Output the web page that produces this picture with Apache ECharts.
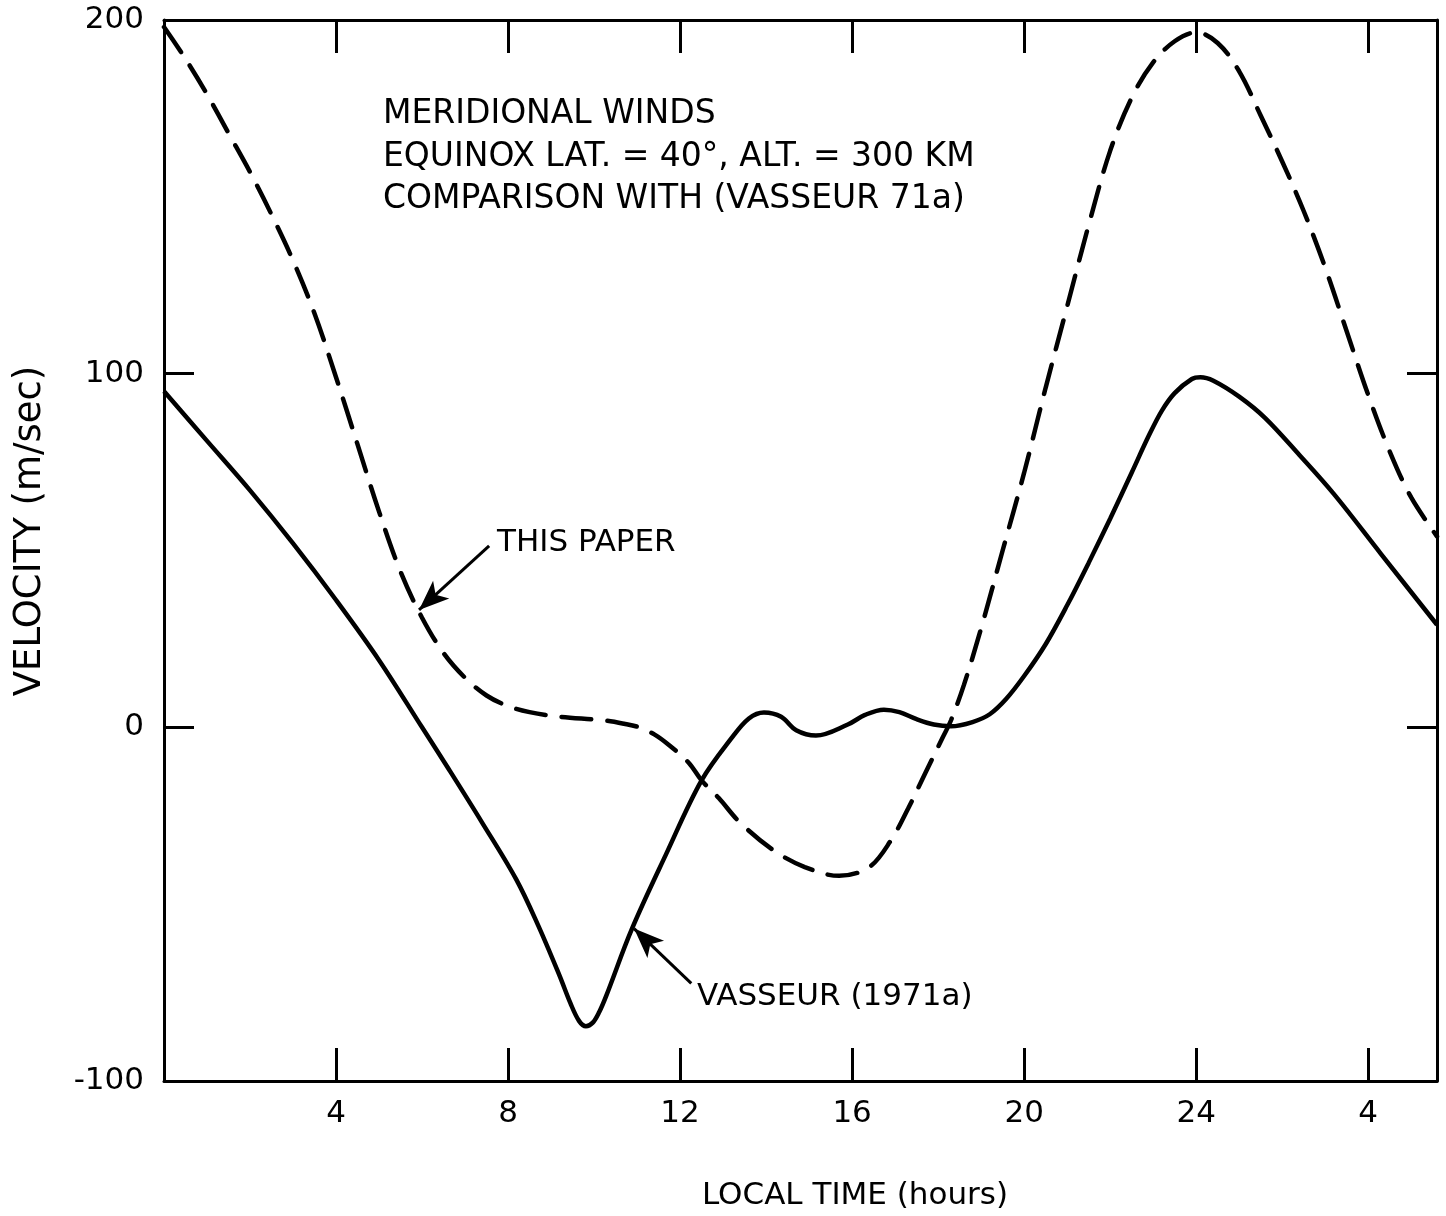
<!DOCTYPE html>
<html><head><meta charset="utf-8">
<script src="https://cdn.jsdelivr.net/npm/echarts@6/dist/echarts.min.js"></script>
<style>html,body{margin:0;padding:0;background:#fff}#c{width:1446px;height:1216px}</style>
</head><body><div id="c"></div>
<script>
// THIS PAPER (dashed)
const hoursThisPaper = [0,0.5,1.0,1.5,2.0,2.5,3.0,3.5,4.0,4.5,5.0,5.5,6.0,6.5,7.0,7.5,8.0,8.5,9.2,10.2,10.7,11.05,11.4,11.74,12.2,12.5,12.9,13.4,14.2,14.9,15.7,16.4,16.9,17.3,17.7,18.1,18.3,18.6,19.0,19.5,20.0,20.5,21.0,21.5,22.0,22.5,23.0,23.5,24.0,24.5,25.0,25.5,26.0,26.5,27.0,27.5,28.0,28.5,29.0,29.6];
const velThisPaper   = [198,189,179,168,157,145,132,117,99,80,61,44,31,21,14,9,6,4.3,3,2,1,0,-2,-5,-10,-15,-20,-27,-35,-39.5,-42,-39.5,-32,-23,-13,-3,2,12,28,50,72,96,119,142,163,178,188,194,196.5,193.5,185.5,173,160,146,130,112,94,78,65,54];
// VASSEUR (1971a) (solid)
const hoursVasseur = [0,1,2,3,4,5,6,6.63,7.4,8.19,8.7,9.19,9.45,9.65,9.81,9.97,10.12,10.28,10.88,11.67,12.5,13.2,13.6,13.95,14.35,14.7,15.16,15.9,16.3,16.74,17.1,17.5,17.9,18.3,18.8,19.2,19.58,20.0,20.5,21.0,21.5,22.0,22.5,22.9,23.2,23.5,23.9,24.1,24.4,25.0,25.6,26.4,27.2,28.3,29.6];
const velVasseur   = [95,81,67,52,36,19,0,-12,-27,-43,-56,-70,-78,-83,-84.5,-83.5,-80.5,-76,-57,-36,-15,-3,2.5,4.2,3,-0.8,-2.3,0.8,3.5,5,4.3,2.3,0.8,0.3,1.5,3.7,8,14.5,23.5,34.5,46.5,59,72,82.5,89.5,94.5,98.5,99,98,93.5,87.5,77,66,49,29];

const xTickValues = [4,8,12,16,20,24,28];
const xTickLabels = ['4','8','12','16','20','24','4'];
const yTickValues = [-100,0,100,200];
const yTickLabels = ['-100','0','100','200'];
const titleLines = ['MERIDIONAL WINDS','EQUINOX LAT. = 40°, ALT. = 300 KM','COMPARISON WITH (VASSEUR 71a)'];
const xName = 'LOCAL TIME (hours)';
const yName = 'VELOCITY (m/sec)';
const labelThisPaper = 'THIS PAPER';
const labelVasseur = 'VASSEUR (1971a)';
// arrow anchors in data space [hour, velocity]
const arrowThisPaper = [[7.56, 51.3],[5.93, 33.2]];
const arrowVasseur = [[12.26, -72.4],[10.93, -56.9]];

const FONT = '"DejaVu Sans", sans-serif';
const chart = echarts.init(document.getElementById('c'), null, {renderer:'canvas'});
const pair = (h, v) => h.map((x, i) => [x, v[i]]);

function xFmt(v){ const i = xTickValues.indexOf(Math.round(v*1000)/1000); return i >= 0 ? xTickLabels[i] : ''; }
function yFmt(v){ const i = yTickValues.indexOf(v); return i >= 0 ? yTickLabels[i] : ''; }

const axisLine = {show:true, onZero:false, lineStyle:{color:'#000', width:3}};
const xCommon = {type:'value', min:0, max:29.6, interval:4, splitLine:{show:false}, axisLine,
  axisTick:{show:true, inside:true, length:33, lineStyle:{color:'#000', width:3}}};
const yCommon = {type:'value', min:-100, max:200, interval:100, splitLine:{show:false}, axisLine,
  axisTick:{show:true, inside:true, length:30, lineStyle:{color:'#000', width:3}}};

const arrowML = (pts) => ({
  silent:true, animation:false, symbol:['none','arrow'], symbolSize:[18,30],
  label:{show:false}, lineStyle:{color:'#000', width:3, type:'solid'},
  emphasis:{disabled:true},
  data:[[{coord:pts[0]},{coord:pts[1]}]]
});

chart.setOption({
  animation:false,
  backgroundColor:'#fff',
  grid:{left:164, right:9, top:20, bottom:135},
  xAxis:[
    Object.assign({}, xCommon, {position:'bottom',
      axisLabel:{show:true, formatter:xFmt, color:'#000', fontSize:31, fontFamily:FONT, margin:17, showMaxLabel:false, showMinLabel:false}}),
    Object.assign({}, xCommon, {position:'top', axisLabel:{show:false}})
  ],
  yAxis:[
    Object.assign({}, yCommon, {position:'left',
      axisLabel:{show:true, formatter:yFmt, color:'#000', fontSize:31, fontFamily:FONT, margin:20}}),
    Object.assign({}, yCommon, {position:'right', axisLabel:{show:false}})
  ],
  series:[
    {name:'THIS PAPER', type:'line', data:pair(hoursThisPaper, velThisPaper), symbol:'none', smooth:0.35,
     lineStyle:{color:'#000', width:4.5, type:[30,16], cap:'round'}, markLine:arrowML(arrowThisPaper)},
    {name:'VASSEUR (1971a)', type:'line', data:pair(hoursVasseur, velVasseur), symbol:'none', smooth:0.35,
     lineStyle:{color:'#000', width:4.5}, markLine:arrowML(arrowVasseur)}
  ],
  graphic:[
    {type:'text', x:383, y:114, style:{text:titleLines[0], fontSize:33, fontFamily:FONT, fill:'#000', align:'left', verticalAlign:'middle'}},
    {type:'text', x:383, y:157, style:{text:titleLines[1], fontSize:33, fontFamily:FONT, fill:'#000', align:'left', verticalAlign:'middle'}},
    {type:'text', x:383, y:199, style:{text:titleLines[2], fontSize:33, fontFamily:FONT, fill:'#000', align:'left', verticalAlign:'middle'}},
    {type:'text', x:497, y:543, style:{text:labelThisPaper, fontSize:31, fontFamily:FONT, fill:'#000', align:'left', verticalAlign:'middle'}},
    {type:'text', x:697, y:997, style:{text:labelVasseur, fontSize:31, fontFamily:FONT, fill:'#000', align:'left', verticalAlign:'middle'}},
    {type:'text', x:855, y:1196, style:{text:xName, fontSize:31, fontFamily:FONT, fill:'#000', align:'center', verticalAlign:'middle'}},
    {type:'text', x:30, y:531, rotation:Math.PI/2, style:{text:yName, fontSize:37, fontFamily:FONT, fill:'#000', align:'center', verticalAlign:'middle'}}
  ]
});
</script>
</body></html>
